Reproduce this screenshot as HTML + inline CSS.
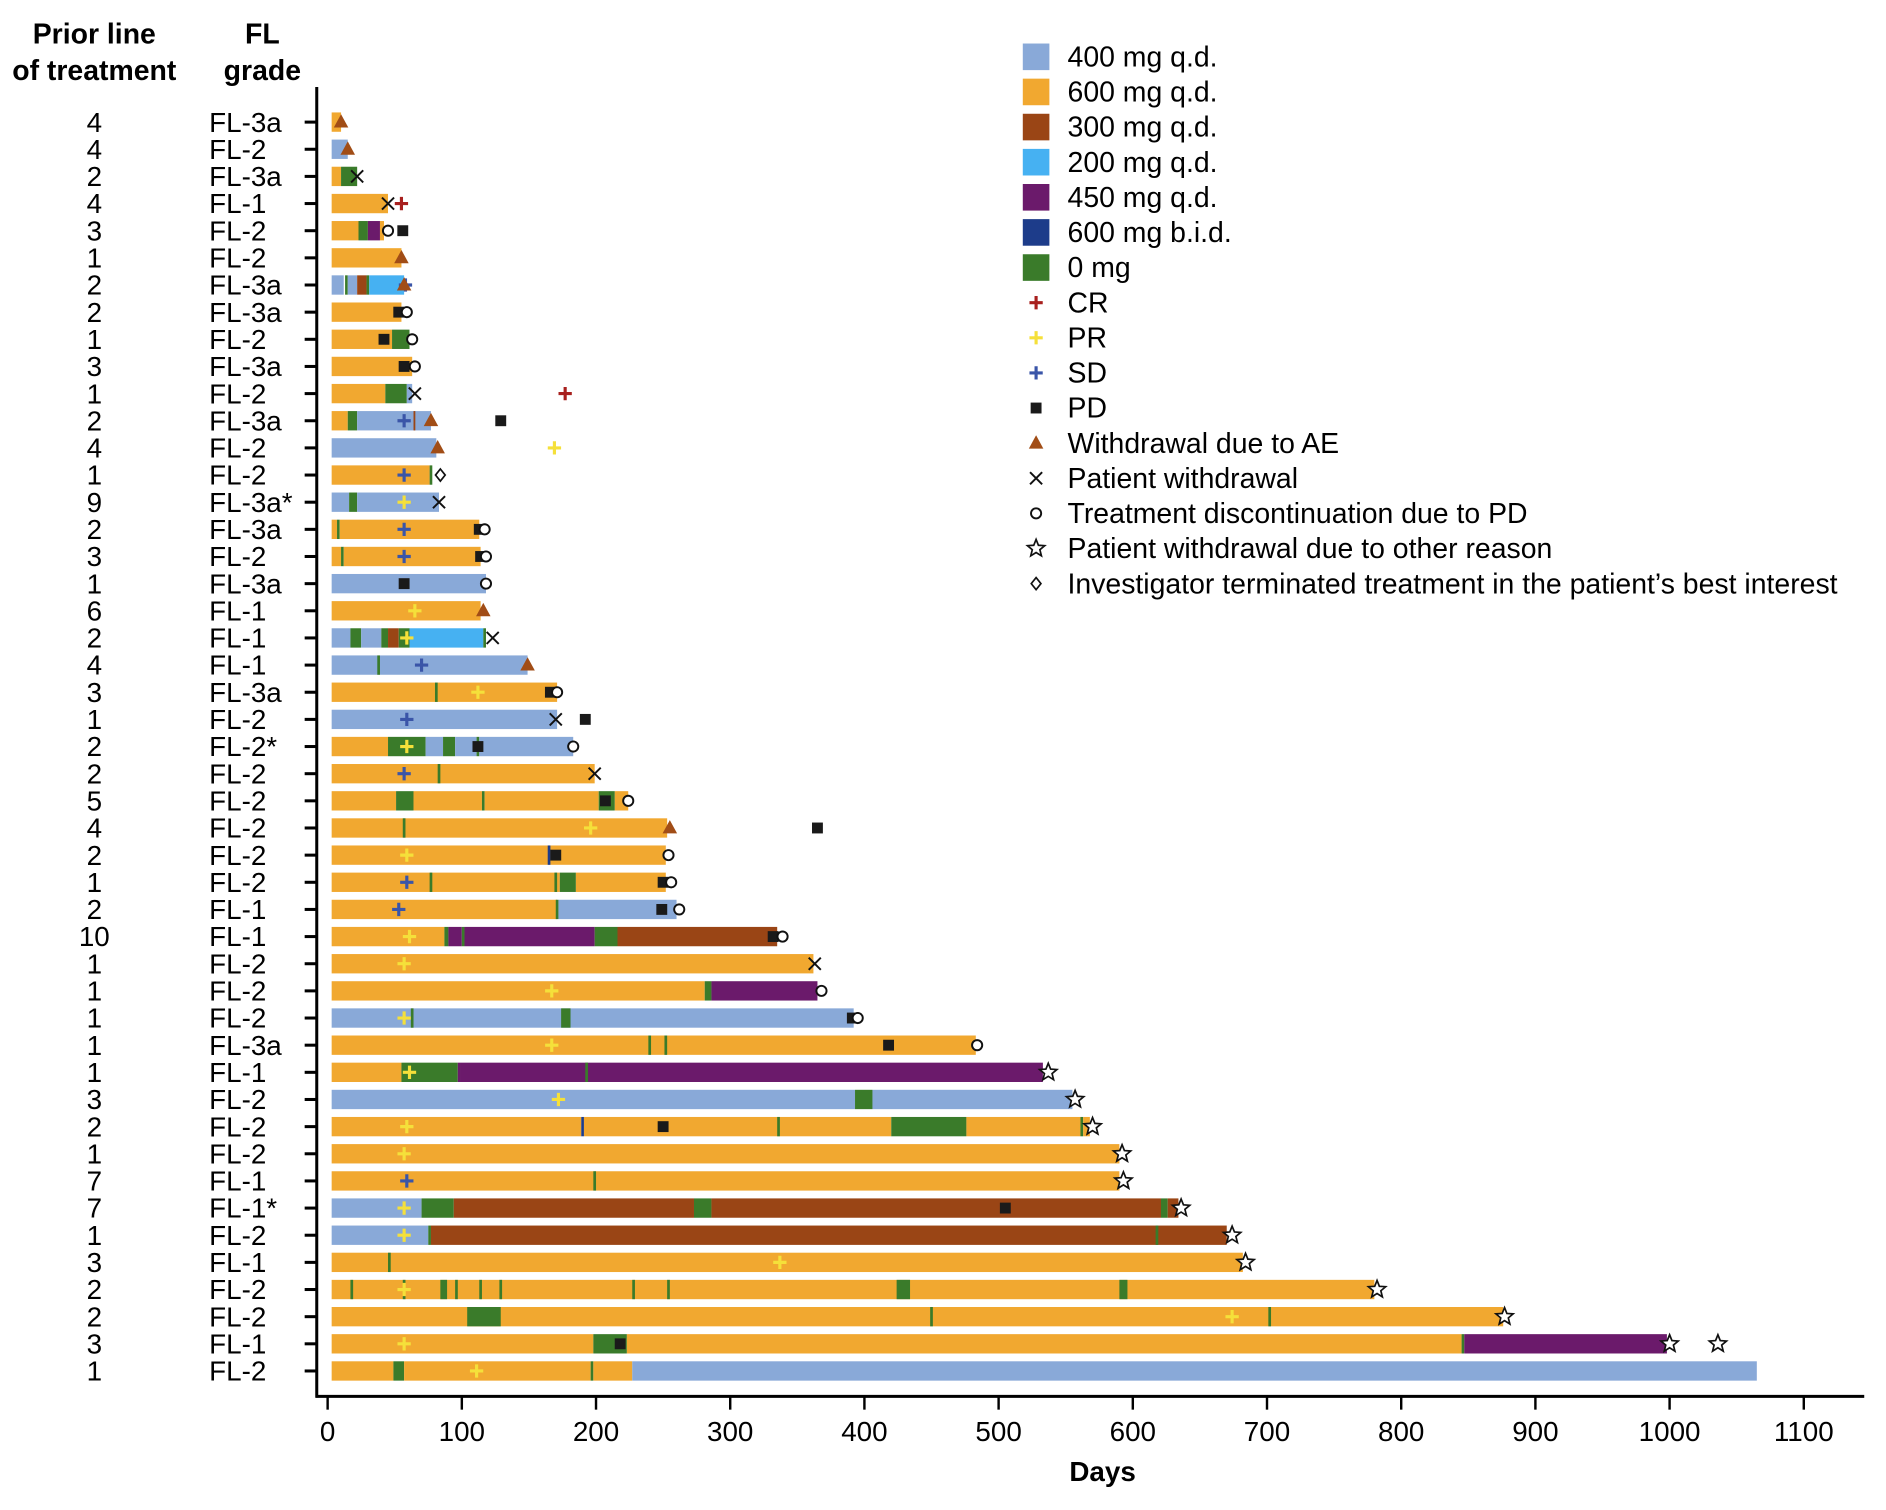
<!DOCTYPE html>
<html><head><meta charset="utf-8"><style>
html,body{margin:0;padding:0;background:#fff;}
svg{display:block;font-family:"Liberation Sans",Arial,sans-serif;}
</style></head><body>
<svg id="chart" width="1886" height="1510" viewBox="0 0 1560 1249" preserveAspectRatio="none" xmlns="http://www.w3.org/2000/svg">
<g id="axes"></g>
<g id="bars"></g>
<g id="marks"></g>
<g id="legend"></g>
</svg>
<script>
const priorLines = [4,4,2,4,3,1,2,2,1,3,1,2,4,1,9,2,3,1,6,2,4,3,1,2,2,5,4,2,1,2,10,1,1,1,1,1,3,2,1,7,7,1,3,2,2,3,1];
const flGrades = ["FL-3a","FL-2","FL-3a","FL-1","FL-2","FL-2","FL-3a","FL-3a","FL-2","FL-3a","FL-2","FL-3a","FL-2","FL-2","FL-3a*","FL-3a","FL-2","FL-3a","FL-1","FL-1","FL-1","FL-3a","FL-2","FL-2*","FL-2","FL-2","FL-2","FL-2","FL-2","FL-1","FL-1","FL-2","FL-2","FL-2","FL-3a","FL-1","FL-2","FL-2","FL-2","FL-1","FL-1*","FL-2","FL-1","FL-2","FL-2","FL-1","FL-2"];
// segments per row: [dose, startDay, endDay]
const segments = [
 [["o",3,10]],
 [["b",3,15]],
 [["o",3,10],["g",10,22]],
 [["o",3,45]],
 [["o",3,23],["g",23,30],["p",30,39],["o",39,42]],
 [["o",3,55]],
 [["b",3,12],["g",13,15],["b",15,22],["r",22,29],["g",29,31],["l",31,57]],
 [["o",3,55]],
 [["o",3,48],["g",48,61]],
 [["o",3,63]],
 [["o",3,43],["g",43,59],["b",59,63]],
 [["o",3,15],["g",15,22],["b",22,77],["r",64,65]],
 [["b",3,81]],
 [["o",3,76],["g",76,78]],
 [["b",3,16],["g",16,22],["b",22,83]],
 [["o",3,7],["g",7,9],["o",9,113]],
 [["o",3,10],["g",10,12],["o",12,114]],
 [["b",3,118]],
 [["o",3,114]],
 [["b",3,17],["g",17,25],["b",25,40],["g",40,45],["r",45,53],["g",53,61],["l",61,116],["g",116,118]],
 [["b",3,149],["g",37,39]],
 [["o",3,171],["g",80,82]],
 [["b",3,171]],
 [["o",3,45],["g",45,73],["b",73,86],["g",86,95],["b",95,111],["g",111,113],["b",113,183]],
 [["o",3,199],["g",82,84]],
 [["o",3,51],["g",51,64],["o",64,115],["g",115,117],["o",117,202],["g",202,214],["o",214,224]],
 [["o",3,253],["g",56,58]],
 [["o",3,252],["n",164,166]],
 [["o",3,173],["g",76,78],["g",169,171],["g",173,185],["o",185,252]],
 [["o",3,171],["g",170,172],["b",172,260]],
 [["o",3,87],["g",87,90],["p",90,100],["g",100,102],["p",102,199],["g",199,216],["r",216,335]],
 [["o",3,362]],
 [["o",3,281],["g",281,286],["p",286,365]],
 [["b",3,392],["g",62,64],["g",174,181]],
 [["o",3,483],["g",239,241],["g",251,253]],
 [["o",3,55],["g",55,97],["p",97,99],["p",99,533],["g",192,194]],
 [["b",3,393],["g",393,406],["b",406,555]],
 [["o",3,189],["n",189,191],["o",191,420],["g",335,337],["g",420,476],["o",476,561],["g",561,563],["o",563,568]],
 [["o",3,590]],
 [["o",3,590],["g",198,200]],
 [["b",3,70],["g",70,94],["r",94,273],["g",273,286],["r",286,621],["g",621,626],["r",626,634]],
 [["b",3,75],["g",75,77],["r",77,670],["g",617,619]],
 [["o",3,682],["g",45,47]],
 [["o",3,780],["g",17,19],["g",56,58],["g",84,89],["g",95,97],["g",113,115],["g",128,130],["g",227,229],["g",253,255],["g",424,434],["g",590,596]],
 [["o",3,876],["g",104,129],["g",449,451],["g",701,703]],
 [["o",3,198],["g",198,223],["o",223,845],["g",845,847],["p",847,998]],
 [["o",3,49],["g",49,57],["o",57,196],["g",196,198],["o",198,227],["b",227,1065]]
];
// markers: [rowIndex, type, day]
const markers = [
 [0,"AE",10],[1,"AE",15],[2,"X",22],[3,"X",45],[3,"CR",55],
 [4,"O",45],[4,"PD",56],[5,"AE",55],[6,"SD",58],[6,"AE",57],
 [7,"PD",53],[7,"O",59],[8,"PD",42],[8,"O",63],[9,"PD",57],[9,"O",65],
 [10,"X",65],[10,"CR",177],[11,"SD",57],[11,"AE",77],[11,"PD",129],
 [12,"AE",82],[12,"PR",169],[13,"SD",57],[13,"D",84],[14,"PR",57],[14,"X",83],
 [15,"SD",57],[15,"PD",113],[15,"O",117],[16,"SD",57],[16,"PD",114],[16,"O",118],
 [17,"PD",57],[17,"O",118],[18,"PR",65],[18,"AE",116],[19,"PR",59],[19,"X",123],
 [20,"SD",70],[20,"AE",149],[21,"PR",112],[21,"PD",166],[21,"O",171],
 [22,"SD",59],[22,"X",170],[22,"PD",192],[23,"PR",59],[23,"PD",112],[23,"O",183],
 [24,"SD",57],[24,"X",199],[25,"PD",207],[25,"O",224],
 [26,"PR",196],[26,"AE",255],[26,"PD",365],[27,"PR",59],[27,"PD",170],[27,"O",254],
 [28,"SD",59],[28,"PD",250],[28,"O",256],[29,"SD",53],[29,"PD",249],[29,"O",262],
 [30,"PR",61],[30,"PD",332],[30,"O",339],[31,"PR",57],[31,"X",363],
 [32,"PR",167],[32,"O",368],[33,"PR",57],[33,"PD",391],[33,"O",395],
 [34,"PR",167],[34,"PD",418],[34,"O",484],[35,"PR",61],[35,"S",537],
 [36,"PR",172],[36,"S",557],[37,"PR",59],[37,"PD",250],[37,"S",570],
 [38,"PR",57],[38,"S",592],[39,"SD",59],[39,"S",593],
 [40,"PR",57],[40,"PD",505],[40,"S",636],[41,"PR",57],[41,"S",674],
 [42,"PR",337],[42,"S",684],[43,"PR",57],[43,"S",782],
 [44,"PR",674],[44,"S",877],[45,"PR",57],[45,"PD",218],[45,"S",1000],[45,"S",1036],
 [46,"PR",111]
];
const xTicks = [0,100,200,300,400,500,600,700,800,900,1000,1100];

const NS = "http://www.w3.org/2000/svg";
const X0 = 271, PXD = (1492-271)/1100;
const xScale = d => X0 + d*PXD;
const yScale = i => 101 + i*(1134-101)/46;
const BH = 16;
const colors = {b:"#89a9d8",o:"#f1a830",r:"#9a4515",l:"#46b1f2",p:"#6b1a6b",n:"#1d3c8a",g:"#3a7b2a"};

function mk(tag, attrs, parent, text){
  const e = document.createElementNS(NS, tag);
  for (const k in attrs) e.setAttribute(k, attrs[k]);
  if (text !== undefined) e.textContent = text;
  parent.appendChild(e);
  return e;
}
const axes = document.getElementById('axes');
const bars = document.getElementById('bars');
const marks = document.getElementById('marks');
const legend = document.getElementById('legend');

[["Prior line",78,36],["of treatment",78,66],["FL",217,36],["grade",217,66]].forEach(h=>{
  const t = mk('text',{x:h[1],y:h[2],'font-size':23.5,'font-weight':'bold','text-anchor':'middle'},axes,h[0]);
  
  
});
let ln = mk('line',{x1:262,y1:72,x2:262,y2:1156,stroke:'#000','stroke-width':2.5},axes);
 
ln = mk('line',{x1:261,y1:1155,x2:1542,y2:1155,stroke:'#000','stroke-width':2.5},axes);
 
xTicks.forEach(v=>{
  const x = xScale(v);
  const tk = mk('line',{x1:x,y1:1155,x2:x,y2:1166,stroke:'#000','stroke-width':2},axes);
   
  const t = mk('text',{x:x,y:1192,'font-size':23,'text-anchor':'middle'},axes,String(v));
   
});
const xt = mk('text',{x:912,y:1225,'font-size':23,'font-weight':'bold','text-anchor':'middle'},axes,"Days");
 

priorLines.forEach((p,i)=>{
  const y = yScale(i);
  const t1 = mk('text',{x:78,y:y+8,'font-size':23,'text-anchor':'middle'},axes,String(p));
   
  const t2 = mk('text',{x:173,y:y+8,'font-size':23},axes,flGrades[i]);
   
  const tk = mk('line',{x1:252,y1:y,x2:262,y2:y,stroke:'#000','stroke-width':2.5},axes);
   
  segments[i].forEach(s=>{
    const x1 = xScale(s[1]), x2 = xScale(s[2]);
    const r = mk('rect',{x:x1,y:y-BH/2,width:Math.max(1.5,x2-x1),height:BH,fill:colors[s[0]]},bars);
    
    
  });
});

function drawMarker(type, x, y, parent){
  const g = mk('g',{},parent);
  if (type==="CR"||type==="PR"||type==="SD"){
    const c = type==="CR"?"#a8201e":type==="PR"?"#f5e03a":"#3a55a8";
    mk('path',{d:`M${x-5.5} ${y}H${x+5.5}M${x} ${y-5.5}V${y+5.5}`,stroke:c,'stroke-width':2.6},g);
  } else if (type==="PD"){
    mk('rect',{x:x-4.5,y:y-4.5,width:9,height:9,fill:'#1a1a1a'},g);
  } else if (type==="AE"){
    mk('path',{d:`M${x} ${y-6.5}L${x+6} ${y+4.5}L${x-6} ${y+4.5}Z`,fill:'#a14d16'},g);
  } else if (type==="X"){
    mk('path',{d:`M${x-5} ${y-5}L${x+5} ${y+5}M${x+5} ${y-5}L${x-5} ${y+5}`,stroke:'#111','stroke-width':1.6},g);
  } else if (type==="O"){
    mk('circle',{cx:x,cy:y,r:4.2,fill:'#fff',stroke:'#111','stroke-width':1.6},g);
  } else if (type==="S"){
    let d="";
    for(let k=0;k<10;k++){const a=-Math.PI/2+k*Math.PI/5;const rr=k%2?3.3:7.5;d+=(k?"L":"M")+(x+rr*Math.cos(a)).toFixed(2)+" "+(y+rr*Math.sin(a)).toFixed(2);}
    mk('path',{d:d+"Z",fill:'#fff',stroke:'#111','stroke-width':1.4},g);
  } else if (type==="D"){
    mk('path',{d:`M${x} ${y-5}L${x+4} ${y}L${x} ${y+5}L${x-4} ${y}Z`,fill:'#fff',stroke:'#111','stroke-width':1.4},g);
  }
  return g;
}
markers.forEach(m=>{
  const g = drawMarker(m[1], xScale(m[2]), yScale(m[0]), marks);
  
  
});

const legendDoses = [["b","400 mg q.d."],["o","600 mg q.d."],["r","300 mg q.d."],["l","200 mg q.d."],["p","450 mg q.d."],["n","600 mg b.i.d."],["g","0 mg"]];
const legendMarks = [["CR","CR"],["PR","PR"],["SD","SD"],["PD","PD"],["AE","Withdrawal due to AE"],["X","Patient withdrawal"],["O","Treatment discontinuation due to PD"],["S","Patient withdrawal due to other reason"],["D","Investigator terminated treatment in the patient\u2019s best interest"]];
let ly = 47;
legendDoses.forEach(d=>{
  const g = mk('g',{},legend);
  
  
  mk('rect',{x:846,y:ly-11,width:22,height:22,fill:colors[d[0]]},g);
  mk('text',{x:883,y:ly+8,'font-size':23.5},g,d[1]);
  ly += 29.05;
});
legendMarks.forEach(d=>{
  const g = mk('g',{},legend);
  
  
  drawMarker(d[0],857,ly,g);
  mk('text',{x:883,y:ly+8,'font-size':23.5},g,d[1]);
  ly += 29.05;
});
</script>
</body></html>
